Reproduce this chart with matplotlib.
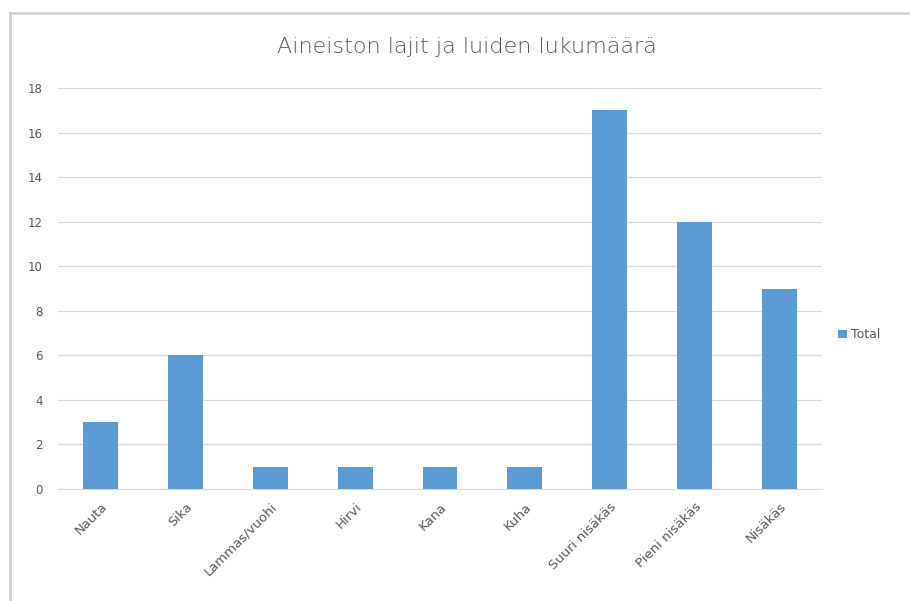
import matplotlib
matplotlib.use("Agg")
import matplotlib.pyplot as plt
from matplotlib.lines import Line2D

categories = ["Nauta", "Sika", "Lammas/vuohi", "Hirvi", "Kana", "Kuha",
              "Suuri nisäkäs", "Pieni nisäkäs", "Nisäkäs"]
values = [3, 6, 1, 1, 1, 1, 17, 12, 9]
yticks = [0, 2, 4, 6, 8, 10, 12, 14, 16, 18]

W, H = 910, 601
fig = plt.figure(figsize=(W/100, H/100), dpi=100)
# chart-area border (only left and top edges visible in the reference)
fig.lines.append(Line2D([9.5/W, 9.5/W], [0, 1-12.5/H], transform=fig.transFigure,
                        color="#D0D0D0", linewidth=2))
fig.lines.append(Line2D([9.5/W, 1], [1-12.5/H, 1-12.5/H], transform=fig.transFigure,
                        color="#D0D0D0", linewidth=2))

ax = fig.add_axes([58/W, 1-489/H, (822-58)/W, (489-88)/H])
x = range(len(categories))
ax.bar(x, values, width=0.41, color="#5B9BD5", label="Total", zorder=3)
ax.set_xlim(-0.5, len(categories)-0.5)
ax.set_ylim(0, 18)
ax.set_yticks(yticks)
ax.set_yticklabels([str(v) for v in yticks], color="#595959", fontsize=8.5)
ax.set_xticks(list(x))
ax.set_xticklabels(categories, rotation=45, ha="right", rotation_mode="anchor",
                   color="#595959", fontsize=9.5)
ax.yaxis.grid(True, color="#D9D9D9", linewidth=0.9, zorder=0)
for s in ["top", "right", "left"]:
    ax.spines[s].set_visible(False)
ax.spines["bottom"].set_color("#D9D9D9")
ax.tick_params(axis="y", length=0, pad=11)
ax.tick_params(axis="x", length=0, pad=8)

fig.text(467/W, 1-47/H, "Aineiston lajit ja luiden lukumäärä", ha="center", va="center",
         fontsize=16, color="#595959", fontweight="light")
ax.legend(loc="center left", bbox_to_anchor=(827/W, 1-335/H), bbox_transform=fig.transFigure,
          frameon=False, fontsize=9, handlelength=0.7, handleheight=0.7,
          handletextpad=0.3, labelcolor="#595959")

fig.savefig("out.png", dpi=100, facecolor="white")
